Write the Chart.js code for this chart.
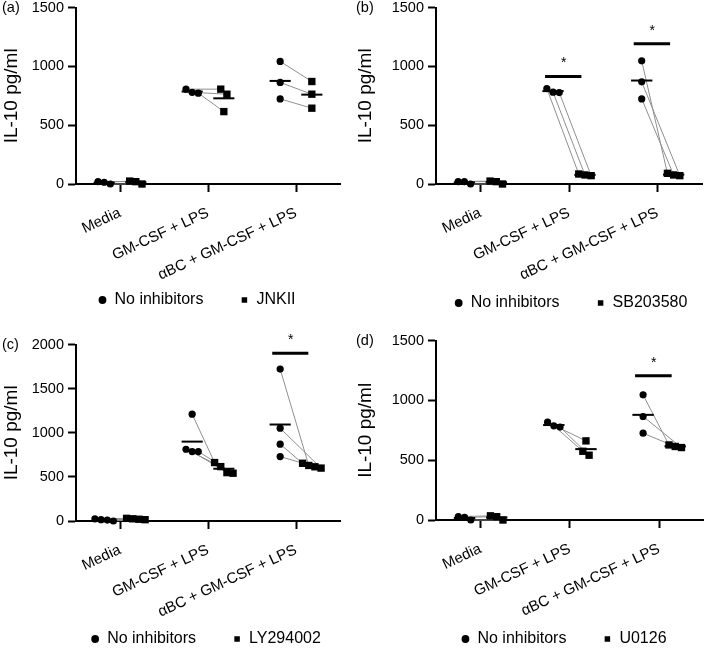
<!DOCTYPE html>
<html><head><meta charset="utf-8">
<script src="https://cdn.jsdelivr.net/npm/chart.js@4.4.1/dist/chart.umd.min.js"></script>
<style>
html,body{margin:0;padding:0;background:#fff;overflow:hidden;width:709px;height:649px;position:relative;}
.p{position:absolute;}
</style></head><body>
<div class="p" style="left:0;top:-5px"><canvas id="c0" width="354" height="323"></canvas></div>
<div class="p" style="left:354px;top:-5px"><canvas id="c1" width="355" height="326"></canvas></div>
<div class="p" style="left:0;top:332px"><canvas id="c2" width="354" height="325"></canvas></div>
<div class="p" style="left:354px;top:328px"><canvas id="c3" width="355" height="329"></canvas></div>
<script>
// ---------------- data ----------------
const categories = ['Media', 'GM-CSF + LPS', '\u03b1BC + GM-CSF + LPS'];
const panelTags = ['(a)', '(b)', '(c)', '(d)'];
const controlName = 'No inhibitors';
const inhibitorNames = ['JNKII', 'SB203580', 'LY294002', 'U0126'];
const yAxisMax = [1500, 1500, 2000, 1500];
const yTickStep = 500;

// replicate values per category; element i of the control pairs with element i of the inhibitor
const noInhibitorsA = [[15, 0, 20], [807, 780, 773], [1043, 864, 724]];
const jnkiiA        = [[25, 0, 20], [807, 764, 616], [872, 764, 645]];
const noInhibitorsB = [[20, 0, 20], [812, 778, 781], [1048, 869, 724]];
const sb203580B     = [[25, 0, 20], [85, 71, 77], [91, 71, 77]];
const noInhibitorsC = [[10, 0, 25, 15], [1212, 814, 788, 788], [1723, 1053, 871, 731]];
const ly294002C     = [[25, 20, 30, 15], [663, 617, 549, 542], [630, 600, 655, 615]];
const noInhibitorsD = [[28, 0, 22], [818, 777, 788], [1047, 866, 726]];
const u0126D        = [[35, 0, 28], [662, 542, 575], [628, 606, 615]];

// significance bars: category index and bar height (pg/ml)
const sigA = [];
const sigB = [{cat: 1, y: 915}, {cat: 2, y: 1193}];
const sigC = [{cat: 2, y: 1902}];
const sigD = [{cat: 2, y: 1207}];

const controls = [noInhibitorsA, noInhibitorsB, noInhibitorsC, noInhibitorsD];
const treated = [jnkiiA, sb203580B, ly294002C, u0126D];
const sigs = [sigA, sigB, sigC, sigD];

// ---------------- layout (not data) ----------------
const layoutCfg = [
  {axisW: 76, padR: 14, xH: 71, shift: 27},
  {axisW: 82, padR: 7,  xH: 74, shift: 43},
  {axisW: 76, padR: 14, xH: 73, shift: 36},
  {axisW: 82, padR: 5,  xH: 74, shift: 35}
];

Chart.defaults.font.family = '"Liberation Sans", Arial, Helvetica, sans-serif';
Chart.defaults.color = '#000';

function spread(vals, side, yMax) {
  const base = side * 0.18, step = 0.07, thr = 0.04 * yMax;
  const idx = vals.map((v, i) => i).sort((a, b) => vals[b] - vals[a]);
  const out = new Array(vals.length);
  let cluster = [idx[0]];
  const flush = () => cluster.forEach((k, j) => { out[k] = base + (j - (cluster.length - 1) / 2) * step; });
  for (let j = 1; j < idx.length; j++) {
    if (vals[idx[j - 1]] - vals[idx[j]] < thr) cluster.push(idx[j]);
    else { flush(); cluster = [idx[j]]; }
  }
  flush();
  return out;
}
const mean = a => a.reduce((s, v) => s + v, 0) / a.length;

const extras = {
  id: 'extras',
  afterLayout(chart) {
    const o = chart.options.plugins.extras;
    if (chart.legend) { chart.legend.left += o.shift; chart.legend.right += o.shift; }
    // let the rotated category labels run below the axis box instead of being clipped
    chart.scales.x._computeLabelArea = () => undefined;
  },
  afterDraw(chart) {
    const o = chart.options.plugins.extras;
    const ctx = chart.ctx, xs = chart.scales.x, ys = chart.scales.y;
    ctx.save();
    ctx.fillStyle = '#000';
    ctx.font = '14.5px "Liberation Sans", Arial, sans-serif';
    ctx.textBaseline = 'middle';
    ctx.textAlign = 'left';
    ctx.fillText(o.tag, 2, ys.getPixelForValue(ys.max));
    ctx.font = '14px "Liberation Sans", Arial, sans-serif';
    ctx.textAlign = 'center';
    o.sig.forEach(s => {
      ctx.fillText('*', xs.getPixelForValue(s.cat - 0.06), ys.getPixelForValue(s.y) - 13);
    });
    ctx.restore();
  }
};

const charts = [];
for (let p = 0; p < 4; p++) {
  const ctrl = controls[p], trt = treated[p], yMax = yAxisMax[p], L = layoutCfg[p];
  const lineSets = [], meanSets = [], circ = [], sq = [];
  ctrl.forEach((vals, c) => {
    const tv = trt[c];
    const oc = spread(vals, -1, yMax), os = spread(tv, 1, yMax);
    vals.forEach((v, i) => {
      circ.push({x: c + oc[i], y: v});
      if (i < tv.length) lineSets.push({
        data: [{x: c + oc[i], y: v}, {x: c + os[i], y: tv[i]}],
        showLine: true, borderColor: '#8f8f8f', borderWidth: 1, pointRadius: 0, order: 3, clip: false
      });
    });
    tv.forEach((v, i) => sq.push({x: c + os[i], y: v}));
    [[-0.18, mean(vals)], [0.18, mean(tv)]].forEach(([b, m]) => meanSets.push({
      data: [{x: c + b - 0.12, y: m}, {x: c + b + 0.12, y: m}],
      showLine: true, borderColor: '#000', borderWidth: 2, pointRadius: 0, order: 2, clip: false
    }));
  });
  const sigSets = sigs[p].map(s => ({
    data: [{x: s.cat - 0.27, y: s.y}, {x: s.cat + 0.14, y: s.y}],
    showLine: true, borderColor: '#000', borderWidth: 3, pointRadius: 0, order: 2, clip: false
  }));
  const datasets = [
    {label: controlName, data: circ, pointStyle: 'circle', pointRadius: 3.6, backgroundColor: '#000',
     borderColor: '#000', borderWidth: 0, order: 1, clip: false, isLegend: true},
    {label: inhibitorNames[p], data: sq, pointStyle: 'rect', pointRadius: 5.2, backgroundColor: '#000',
     borderColor: '#000', borderWidth: 0, order: 1, clip: false, isLegend: true},
    ...meanSets, ...sigSets, ...lineSets
  ];
  charts.push(new Chart(document.getElementById('c' + p), {
    type: 'scatter',
    data: {datasets},
    plugins: [extras],
    options: {
      responsive: false, animation: false, events: [],
      layout: {padding: {left: 0, right: L.padR, top: 0, bottom: 0}},
      plugins: {
        tooltip: {enabled: false},
        extras: {tag: panelTags[p], sig: sigs[p], shift: L.shift},
        legend: {
          position: 'bottom',
          labels: {
            usePointStyle: true, boxWidth: 8, boxHeight: 5.5, padding: 37,
            font: {size: 16}, color: '#000',
            filter: (item, data) => !!data.datasets[item.datasetIndex].isLegend
          }
        }
      },
      scales: {
        x: {
          type: 'linear', min: -0.5, max: 2.5,
          afterBuildTicks: s => { s.ticks = categories.map((_, i) => ({value: i})); },
          afterFit: s => { s.height = L.xH; },
          ticks: {callback: v => categories[v], minRotation: 25, maxRotation: 25, autoSkip: false,
                  font: {size: 15}, color: '#000', padding: 12},
          grid: {display: true, drawOnChartArea: false, drawTicks: true, tickLength: 8, tickWidth: 2, tickColor: '#000'},
          border: {display: true, color: '#000', width: 2}
        },
        y: {
          min: 0, max: yMax,
          afterFit: s => { s.width = L.axisW; },
          ticks: {stepSize: yTickStep, font: {size: 14.5}, color: '#000', padding: 4, callback: v => String(v)},
          grid: {display: true, drawOnChartArea: false, drawTicks: true, tickLength: 8, tickWidth: 2, tickColor: '#000'},
          border: {display: true, color: '#000', width: 2},
          title: {display: true, text: 'IL-10 pg/ml', font: {size: 19}, color: '#000', padding: {top: 0, bottom: 0}}
        }
      }
    }
  }));
}
</script>
</body></html>
